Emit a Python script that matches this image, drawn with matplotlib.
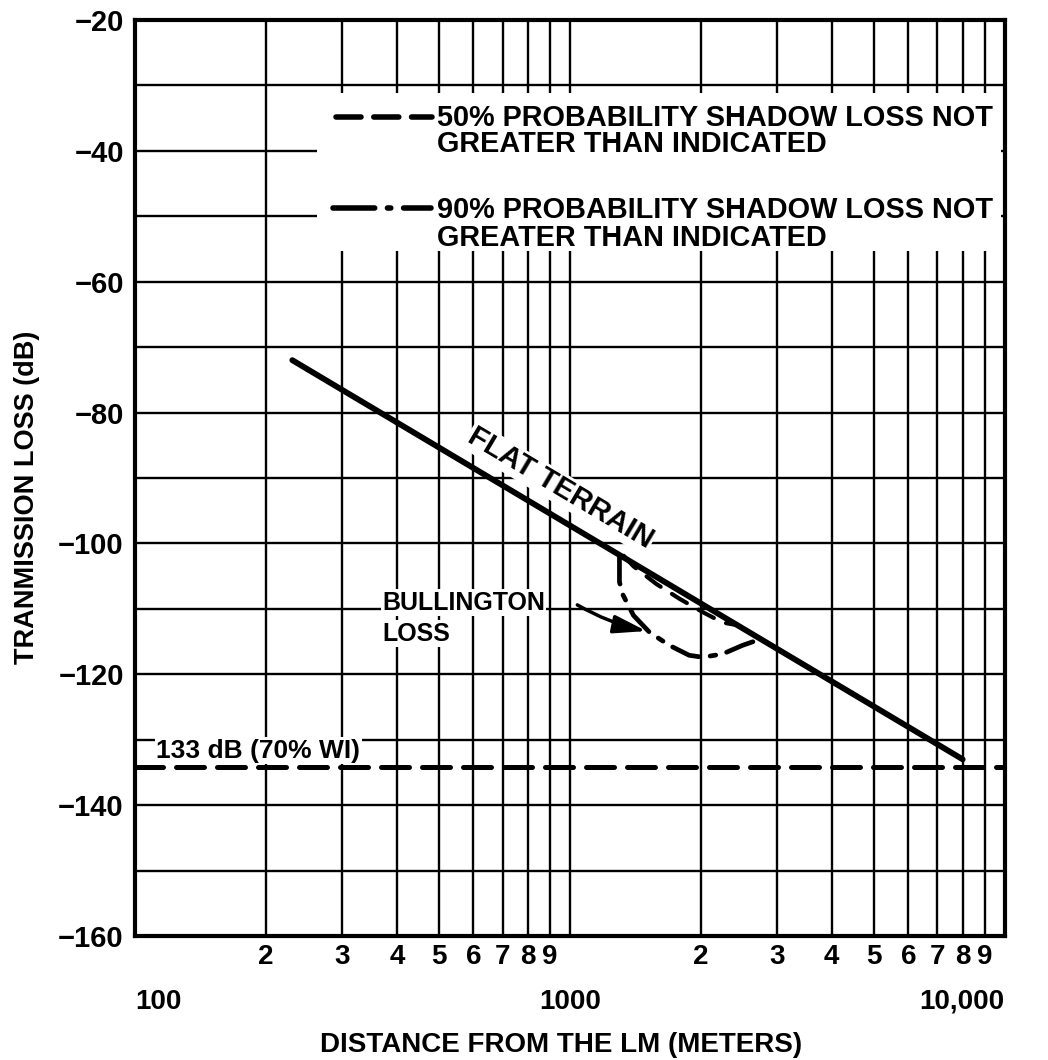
import matplotlib
matplotlib.use("Agg")
import matplotlib.pyplot as plt
import numpy as np
from matplotlib.patches import Rectangle

# ---- data ----
flat_x = [230, 8000]
flat_db = [-72.0, -133.0]

wi_level = -134.2          # drawn level of the "133 dB (70% WI)" line

# 50 % shadow loss curve (dashed)
p50_x = [1330, 1400, 1580, 1790, 2020, 2245, 2430]
p50_db = [-101.9, -103.5, -106.2, -108.5, -110.5, -112.1, -112.5]

# 90 % shadow loss curve (dash-dot)
p90_x = [1300, 1300, 1325, 1400, 1525, 1695, 1880, 2020, 2245, 2490, 2750]
p90_db = [-101.9, -105.9, -107.9, -111.0, -113.6, -115.6, -117.1, -117.4, -116.9, -115.6, -114.6]

y_major = list(range(-160, -19, 20))
x_minor_labels = ["2", "3", "4", "5", "6", "7", "8", "9"]
x_major = [100, 1000, 10000]
x_major_labels = ["100", "1000", "10,000"]

BOLD = ["Liberation Sans", "DejaVu Sans"]

fig = plt.figure(figsize=(10.48, 10.6), dpi=100)
ax = fig.add_axes([0.1288, 0.1170, 0.830, 0.8642])

ax.set_xscale("log")
ax.set_xlim(100, 10000)
ax.set_ylim(-160, -20)

# grid
ax.set_yticks(y_major)
ax.set_yticks(list(range(-150, -20, 20)), minor=True)
minor_pos = [m * d for d in (100, 1000) for m in range(2, 10)]
ax.set_xticks(x_major)
ax.set_xticks(minor_pos, minor=True)
ax.grid(True, which="both", color="black", lw=1.7)
ax.set_axisbelow(True)
for s in ax.spines.values():
    s.set_linewidth(3)
    s.set_zorder(10)

ax.set_yticklabels([f"\u2212{abs(v)}" for v in y_major], fontsize=21,
                   fontweight="bold", family=BOLD)
ax.set_xticklabels(x_major_labels, fontsize=20, fontweight="bold", family=BOLD)
ax.set_xticklabels(x_minor_labels * 2, minor=True, fontsize=20,
                   fontweight="bold", family=BOLD)
ax.tick_params(axis="both", which="both", length=0)
ax.tick_params(axis="y", pad=8)
ax.tick_params(axis="x", which="minor", pad=6)
ax.tick_params(axis="x", which="major", pad=38)
xl = ax.get_xticklabels()
xl[0].set_ha("left")
xl[-1].set_ha("right")

# legend box (white area that cuts the grid)
ax.add_patch(Rectangle((262, -55.3), 9800 - 262, 24.1, facecolor="white",
                       edgecolor="none", zorder=2))

# curves
ax.plot(flat_x, flat_db, color="black", lw=4.2, solid_capstyle="round", zorder=5)
ax.plot([100, 10000], [wi_level, wi_level], color="black", lw=3.6,
        dashes=(5.6, 2.6), dash_capstyle="round", zorder=5)
ax.plot(p50_x, p50_db, color="black", lw=3.0, dashes=(4.2, 3.2),
        dash_capstyle="round", zorder=5)
ax.plot(p90_x, p90_db, color="black", lw=3.4, dashes=(6.0, 2.4, 1.2, 2.4),
        dash_capstyle="round", zorder=5)

# legend samples and text
ax.plot([290, 483], [-34.9, -34.9], color="black", lw=4, dashes=(4.5, 2.3),
        dash_capstyle="round", zorder=5)
ax.plot([285, 480], [-48.7, -48.7], color="black", lw=4,
        dashes=(7.5, 2.3, 0.6, 2.3), dash_capstyle="round", zorder=5)
legend_lines = [("50% PROBABILITY SHADOW LOSS NOT", -35.0),
                ("GREATER THAN INDICATED", -38.9),
                ("90% PROBABILITY SHADOW LOSS NOT", -49.1),
                ("GREATER THAN INDICATED", -53.4)]
for txt, yv in legend_lines:
    ax.text(494, yv, txt, fontsize=20.8, fontweight="bold", family=BOLD,
            ha="left", va="center", zorder=6)

# FLAT TERRAIN label along the line
fig.canvas.draw()
p0 = ax.transData.transform((flat_x[0], flat_db[0]))
p1 = ax.transData.transform((flat_x[1], flat_db[1]))
ang = np.degrees(np.arctan2(p1[1] - p0[1], p1[0] - p0[0]))
ax.text(950, -91.6, "FLAT TERRAIN", fontsize=21, fontweight="bold",
        family=BOLD, rotation=ang, rotation_mode="anchor", ha="center",
        va="center", zorder=6,
        bbox=dict(facecolor="white", edgecolor="none", pad=1))

ax.text(370, -109.1, "BULLINGTON", fontsize=18, fontweight="bold",
        family=BOLD, ha="left", va="center", zorder=6,
        bbox=dict(facecolor="white", edgecolor="none", pad=1))
ax.text(370, -113.8, "LOSS", fontsize=18, fontweight="bold",
        family=BOLD, ha="left", va="center", zorder=6,
        bbox=dict(facecolor="white", edgecolor="none", pad=1))
ax.annotate("", xy=(1500, -113.4), xytext=(1040, -109.4),
            arrowprops=dict(arrowstyle="-|>,head_length=0.9,head_width=0.25",
                            lw=2.5, color="black", mutation_scale=22,
                            connectionstyle="arc3,rad=0.08", shrinkA=0, shrinkB=0),
            zorder=6)

ax.text(112, -131.7, "133 dB (70% WI)", fontsize=19, fontweight="bold",
        family=BOLD, ha="left", va="center", zorder=6,
        bbox=dict(facecolor="white", edgecolor="none", pad=1))

fig.text(0.026, 0.531, "TRANMISSION LOSS (dB)", fontsize=19.5,
         fontweight="bold", family=BOLD, rotation=90, ha="center", va="center")
fig.text(0.535, 0.014, "DISTANCE FROM THE LM (METERS)", fontsize=20,
         fontweight="bold", family=BOLD, ha="center", va="center")

fig.savefig("out.png", dpi=100)
